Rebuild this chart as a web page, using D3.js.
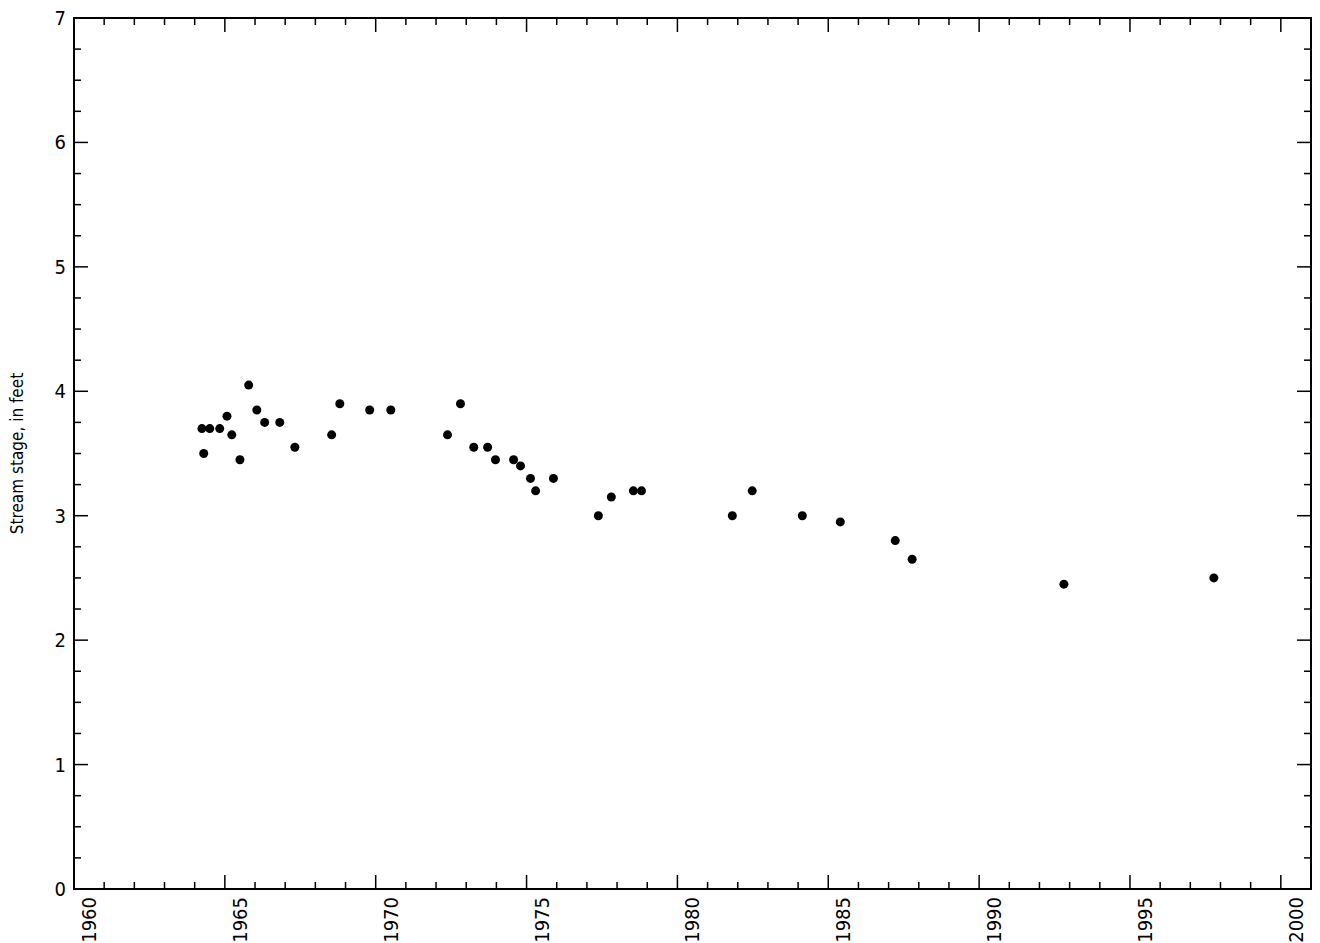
<!DOCTYPE html>
<html><head><meta charset="utf-8">
<script src="https://d3js.org/d3.v7.min.js"></script>
<style>body{margin:0;background:#fff}text{font-family:"Liberation Sans Narrow","DejaVu Sans Condensed",sans-serif;fill:#000}</style>
</head><body>
<svg id="c" width="1320" height="943"></svg>
<script>
var years = [1964.24,1964.30,1964.50,1964.83,1965.07,1965.23,1965.50,1965.79,1966.06,1966.32,1966.82,1967.32,1968.54,1968.81,1969.80,1970.50,1972.38,1972.81,1973.25,1973.71,1973.97,1974.57,1974.80,1975.13,1975.30,1975.89,1977.38,1977.81,1978.54,1978.81,1981.82,1982.48,1984.14,1985.40,1987.22,1987.78,1992.81,1997.78];
var stage = [3.70,3.50,3.70,3.70,3.80,3.65,3.45,4.05,3.85,3.75,3.75,3.55,3.65,3.90,3.85,3.85,3.65,3.90,3.55,3.55,3.45,3.45,3.40,3.30,3.20,3.30,3.00,3.15,3.20,3.20,3.00,3.20,3.00,2.95,2.80,2.65,2.45,2.50];
var xTicks = [1960,1965,1970,1975,1980,1985,1990,1995,2000];
var yTicks = [0,1,2,3,4,5,6,7];

var svg = d3.select('#c');
var L = 74, R = 1311, T = 18, B = 889;
var x = d3.scaleLinear().domain([1960, 2001]).range([L, R]);
var y = d3.scaleLinear().domain([0, 7]).range([B, T]);

var minorX = d3.range(1960, 2001, 1);
var minorY = d3.range(0, 7.01, 0.25);

function tickLines(g, vals, major, len, horiz, base, dir) {
	vals.forEach(function (v) {
		var big = major.indexOf(v) >= 0;
		var l = big ? len * 2 : len;
		if (horiz) g.append('line').attr('x1', x(v)).attr('x2', x(v)).attr('y1', base).attr('y2', base + dir * l);
		else g.append('line').attr('y1', y(v)).attr('y2', y(v)).attr('x1', base).attr('x2', base + dir * l);
	});
}
var tg = svg.append('g').attr('stroke', '#000').attr('stroke-width', 1.5);
tickLines(tg, minorX, xTicks, 7, true, B, -1);
tickLines(tg, minorX, xTicks, 7, true, T, 1);
tickLines(tg, minorY, yTicks, 7, false, L, 1);
tickLines(tg, minorY, yTicks, 7, false, R, -1);

svg.append('rect').attr('x', L).attr('y', T).attr('width', R - L).attr('height', B - T)
	.attr('fill', 'none').attr('stroke', '#000').attr('stroke-width', 2);

xTicks.forEach(function (t) {
	svg.append('text').attr('transform', 'translate(' + (x(t) + 22) + ',' + (B + 8) + ') rotate(-90)')
		.attr('text-anchor', 'end').attr('font-size', 20).text(t);
});
yTicks.forEach(function (t) {
	svg.append('text').attr('x', L - 8).attr('y', y(t) + 7).attr('text-anchor', 'end')
		.attr('font-size', 20).text(t);
});
svg.append('text').attr('transform', 'translate(23,' + ((T + B) / 2) + ') rotate(-90)')
	.attr('text-anchor', 'middle').attr('font-size', 17).text('Stream stage, in feet');

svg.selectAll('circle.p').data(years).enter().append('circle')
	.attr('cx', function (d) { return x(d); })
	.attr('cy', function (d, i) { return y(stage[i]); })
	.attr('r', 4.5).attr('fill', '#000');
</script>
</body></html>
